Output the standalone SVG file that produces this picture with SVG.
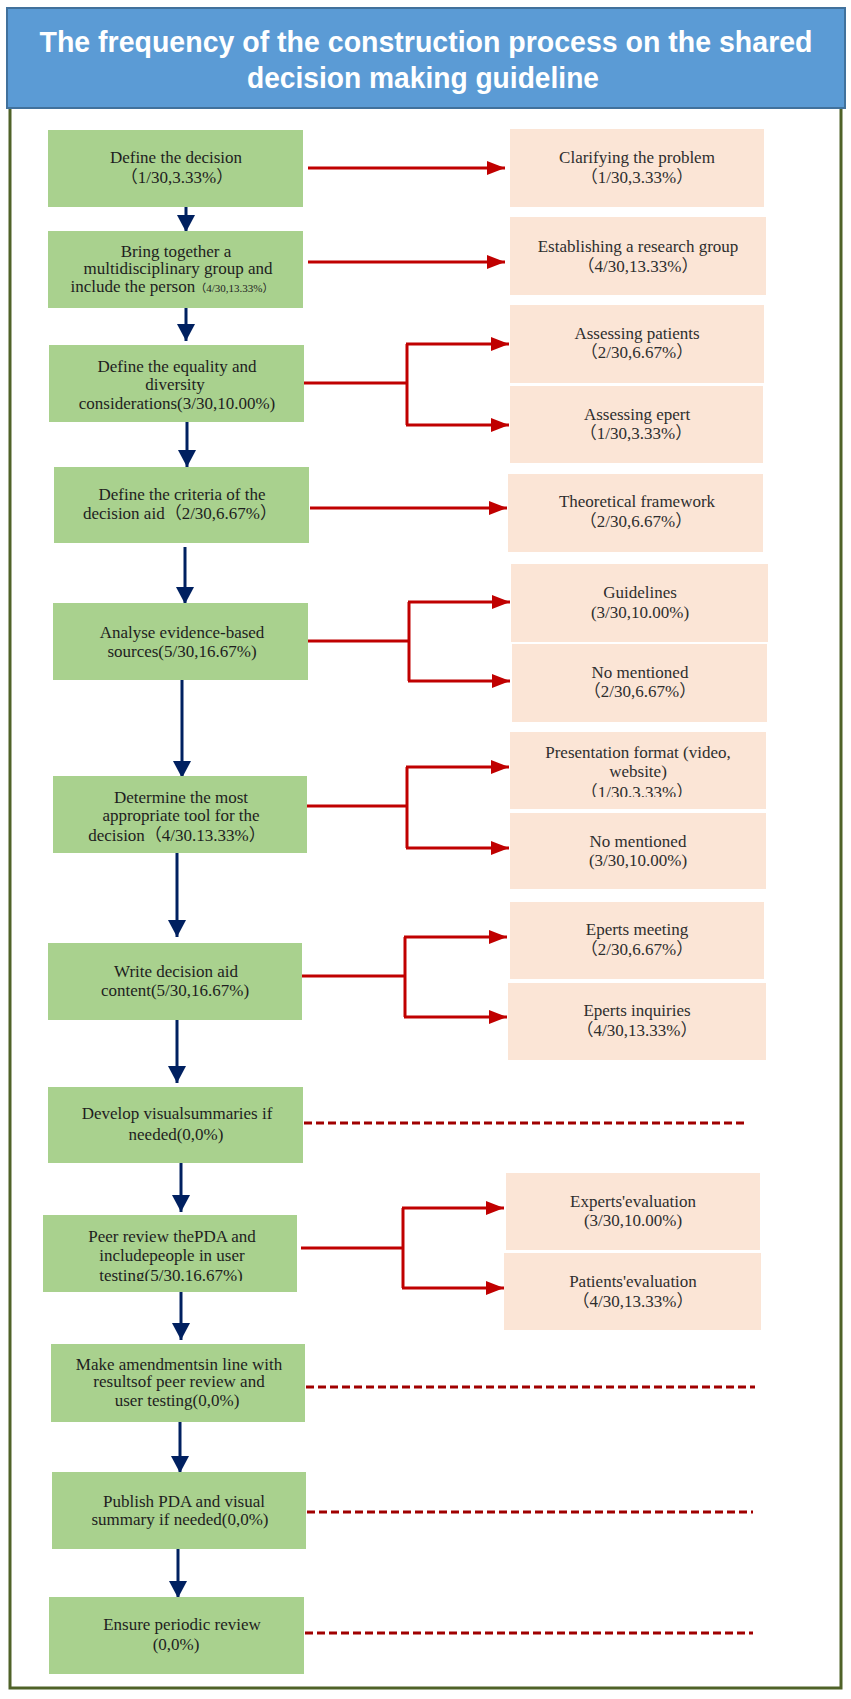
<svg xmlns="http://www.w3.org/2000/svg" width="851" height="1699" viewBox="0 0 851 1699">
<style>
.g{fill:#A9D18E}
.p{fill:#FBE5D6}
.t{font-family:"Liberation Serif","Times New Roman","Noto Sans CJK SC",serif;font-size:17px;fill:#1e1e1e;text-anchor:middle}
.tp{font-family:"Liberation Serif","Times New Roman","Noto Sans CJK SC",serif;font-size:17px;fill:#2e2e2e;text-anchor:middle}
.bl{stroke:#002060;stroke-width:3;fill:none}
.rd{stroke:#C00000;stroke-width:3;fill:none}
.ds{stroke:#A00000;stroke-width:3;fill:none;stroke-dasharray:8 4}
.title{font-family:"Liberation Sans","Open Sans",sans-serif;font-weight:bold;font-size:30px;fill:#fff;text-anchor:middle}
</style>
<defs>
<marker id="ab" markerUnits="userSpaceOnUse" markerWidth="17" markerHeight="18" viewBox="0 0 17 18" refX="17" refY="9" orient="auto"><path d="M0,0 L17,9 L0,18 z" fill="#002060"/></marker>
<marker id="ar" markerUnits="userSpaceOnUse" markerWidth="18" markerHeight="14" viewBox="0 0 18 14" refX="18" refY="7" orient="auto"><path d="M0,0 L18,7 L0,14 z" fill="#C00000"/></marker>
<clipPath id="c9"><rect x="43" y="1215" width="254" height="66"/></clipPath>
<clipPath id="c8p"><rect x="510" y="732" width="256" height="65"/></clipPath>
</defs>
<rect x="0" y="0" width="851" height="1699" fill="#fff"/>
<rect x="10" y="100" width="831" height="1588" fill="none" stroke="#4F6228" stroke-width="3"/>
<g id="title">
<rect x="7" y="8" width="838" height="100" fill="#5B9BD5" stroke="#41719C" stroke-width="2"/>
<text class="title" x="426" y="52" textLength="773" lengthAdjust="spacingAndGlyphs">The frequency of the construction process on the shared</text>
<text class="title" x="423" y="88" textLength="352" lengthAdjust="spacingAndGlyphs">decision making guideline</text>
</g>
<g id="connectors">
<line class="bl" x1="186" y1="207" x2="186" y2="232" marker-end="url(#ab)"/>
<line class="bl" x1="186" y1="308" x2="186" y2="341" marker-end="url(#ab)"/>
<line class="bl" x1="187" y1="422" x2="187" y2="467" marker-end="url(#ab)"/>
<line class="bl" x1="185" y1="547" x2="185" y2="604" marker-end="url(#ab)"/>
<line class="bl" x1="182" y1="680" x2="182" y2="778" marker-end="url(#ab)"/>
<line class="bl" x1="177" y1="853" x2="177" y2="937" marker-end="url(#ab)"/>
<line class="bl" x1="177" y1="1020" x2="177" y2="1083" marker-end="url(#ab)"/>
<line class="bl" x1="181" y1="1163" x2="181" y2="1212" marker-end="url(#ab)"/>
<line class="bl" x1="181" y1="1292" x2="181" y2="1340" marker-end="url(#ab)"/>
<line class="bl" x1="180" y1="1422" x2="180" y2="1473" marker-end="url(#ab)"/>
<line class="bl" x1="178" y1="1549" x2="178" y2="1598" marker-end="url(#ab)"/>
<line class="rd" x1="308" y1="168" x2="505" y2="168" marker-end="url(#ar)"/>
<line class="rd" x1="308" y1="262" x2="505" y2="262" marker-end="url(#ar)"/>
<line class="rd" x1="304" y1="383" x2="407" y2="383"/>
<line class="rd" x1="407" y1="344" x2="407" y2="425"/>
<line class="rd" x1="406" y1="344" x2="509" y2="344" marker-end="url(#ar)"/>
<line class="rd" x1="406" y1="425" x2="509" y2="425" marker-end="url(#ar)"/>
<line class="rd" x1="310" y1="508" x2="507" y2="508" marker-end="url(#ar)"/>
<line class="rd" x1="308" y1="641" x2="409" y2="641"/>
<line class="rd" x1="409" y1="602" x2="409" y2="681"/>
<line class="rd" x1="408" y1="602" x2="510" y2="602" marker-end="url(#ar)"/>
<line class="rd" x1="408" y1="681" x2="510" y2="681" marker-end="url(#ar)"/>
<line class="rd" x1="307" y1="806" x2="407" y2="806"/>
<line class="rd" x1="407" y1="767" x2="407" y2="848"/>
<line class="rd" x1="406" y1="767" x2="509" y2="767" marker-end="url(#ar)"/>
<line class="rd" x1="406" y1="848" x2="509" y2="848" marker-end="url(#ar)"/>
<line class="rd" x1="302" y1="976" x2="405" y2="976"/>
<line class="rd" x1="405" y1="937" x2="405" y2="1017"/>
<line class="rd" x1="404" y1="937" x2="507" y2="937" marker-end="url(#ar)"/>
<line class="rd" x1="404" y1="1017" x2="507" y2="1017" marker-end="url(#ar)"/>
<line class="rd" x1="301" y1="1248" x2="403" y2="1248"/>
<line class="rd" x1="403" y1="1208" x2="403" y2="1288"/>
<line class="rd" x1="402" y1="1208" x2="504" y2="1208" marker-end="url(#ar)"/>
<line class="rd" x1="402" y1="1288" x2="504" y2="1288" marker-end="url(#ar)"/>
<line class="ds" x1="304" y1="1123" x2="748" y2="1123"/>
<line class="ds" x1="306" y1="1387" x2="755" y2="1387"/>
<line class="ds" x1="307" y1="1512" x2="753" y2="1512"/>
<line class="ds" x1="305" y1="1633" x2="753" y2="1633"/>
</g>
<g id="g1"><rect class="g" x="48" y="130" width="255" height="77"/>
<text class="t" x="176" y="163">Define the decision</text><text class="t" x="177" y="183">（1/30,3.33%）</text></g>
<g id="g2"><rect class="g" x="48" y="231" width="255" height="77"/>
<text class="t" x="176" y="257" font-size="16">Bring together a</text>
<text class="t" x="178" y="274" font-size="16">multidisciplinary group and</text>
<text class="t" x="172" y="292" font-size="16">include the person<tspan font-size="11">（4/30,13.33%）</tspan></text></g>
<g id="g3"><rect class="g" x="49" y="345" width="255" height="77"/>
<text class="t" x="177" y="372">Define the equality and</text>
<text class="t" x="175" y="390">diversity</text>
<text class="t" x="177" y="409">considerations(3/30,10.00%)</text></g>
<g id="g4"><rect class="g" x="54" y="467" width="255" height="76"/>
<text class="t" x="182" y="500">Define the criteria of the</text>
<text class="t" x="180" y="519">decision aid（2/30,6.67%）</text></g>
<g id="g5"><rect class="g" x="53" y="603" width="255" height="77"/>
<text class="t" x="182" y="638">Analyse evidence-based</text>
<text class="t" x="182" y="657">sources(5/30,16.67%)</text></g>
<g id="g6"><rect class="g" x="53" y="776" width="254" height="77"/>
<text class="t" x="181" y="803">Determine the most</text>
<text class="t" x="181" y="821">appropriate tool for the</text>
<text class="t" x="177" y="841">decision（4/30.13.33%）</text></g>
<g id="g7"><rect class="g" x="48" y="943" width="254" height="77"/>
<text class="t" x="176" y="977">Write decision aid</text>
<text class="t" x="175" y="996">content(5/30,16.67%)</text></g>
<g id="g8"><rect class="g" x="48" y="1087" width="255" height="76"/>
<text class="t" x="177" y="1119">Develop visualsummaries if</text>
<text class="t" x="176" y="1140">needed(0,0%)</text></g>
<g id="g9"><rect class="g" x="43" y="1215" width="254" height="77"/>
<text class="t" x="172" y="1242">Peer review thePDA and</text>
<text class="t" x="172" y="1261">includepeople in user</text>
<text class="t" x="171" y="1281" clip-path="url(#c9)">testing(5/30,16.67%)</text></g>
<g id="g10"><rect class="g" x="51" y="1344" width="254" height="78"/>
<text class="t" x="179" y="1370" font-size="16">Make amendmentsin line with</text>
<text class="t" x="179" y="1387" font-size="16">resultsof peer review and</text>
<text class="t" x="177" y="1406" font-size="16">user testing(0,0%)</text></g>
<g id="g11"><rect class="g" x="52" y="1472" width="254" height="77"/>
<text class="t" x="184" y="1507">Publish PDA and visual</text>
<text class="t" x="180" y="1525">summary if needed(0,0%)</text></g>
<g id="g12"><rect class="g" x="49" y="1597" width="255" height="77"/>
<text class="t" x="182" y="1630">Ensure periodic review</text>
<text class="t" x="176" y="1650">(0,0%)</text></g>
<g id="p1"><rect class="p" x="510" y="129" width="254" height="78"/>
<text class="tp" x="637" y="163">Clarifying the problem</text><text class="tp" x="637" y="183">（1/30,3.33%）</text></g>
<g id="p2"><rect class="p" x="510" y="217" width="256" height="78"/>
<text class="tp" x="638" y="252">Establishing a research group</text><text class="tp" x="638" y="272">（4/30,13.33%）</text></g>
<g id="p3"><rect class="p" x="510" y="305" width="254" height="78"/>
<text class="tp" x="637" y="339">Assessing patients</text><text class="tp" x="637" y="358">（2/30,6.67%）</text></g>
<g id="p4"><rect class="p" x="510" y="386" width="253" height="77"/>
<text class="tp" x="637" y="420">Assessing epert</text><text class="tp" x="636" y="439">（1/30,3.33%）</text></g>
<g id="p5"><rect class="p" x="508" y="474" width="255" height="78"/>
<text class="tp" x="637" y="507">Theoretical framework</text><text class="tp" x="636" y="527">（2/30,6.67%）</text></g>
<g id="p6"><rect class="p" x="511" y="564" width="257" height="78"/>
<text class="tp" x="640" y="598">Guidelines</text><text class="tp" x="640" y="618">(3/30,10.00%)</text></g>
<g id="p7"><rect class="p" x="512" y="644" width="255" height="78"/>
<text class="tp" x="640" y="678">No mentioned</text><text class="tp" x="640" y="697">（2/30,6.67%）</text></g>
<g id="p8"><rect class="p" x="510" y="732" width="256" height="77"/>
<text class="tp" x="638" y="758">Presentation format (video,</text>
<text class="tp" x="638" y="777">website)</text>
<text class="tp" x="637" y="798" clip-path="url(#c8p)">（1/30.3.33%）</text></g>
<g id="p9"><rect class="p" x="510" y="813" width="256" height="76"/>
<text class="tp" x="638" y="847">No mentioned</text><text class="tp" x="638" y="866">(3/30,10.00%)</text></g>
<g id="p10"><rect class="p" x="510" y="902" width="254" height="77"/>
<text class="tp" x="637" y="935">Eperts meeting</text><text class="tp" x="637" y="955">（2/30,6.67%）</text></g>
<g id="p11"><rect class="p" x="508" y="983" width="258" height="77"/>
<text class="tp" x="637" y="1016">Eperts inquiries</text><text class="tp" x="637" y="1036">（4/30,13.33%）</text></g>
<g id="p12"><rect class="p" x="506" y="1173" width="254" height="77"/>
<text class="tp" x="633" y="1207">Experts'evaluation</text><text class="tp" x="633" y="1226">(3/30,10.00%)</text></g>
<g id="p13"><rect class="p" x="504" y="1253" width="257" height="77"/>
<text class="tp" x="633" y="1287">Patients'evaluation</text><text class="tp" x="633" y="1307">（4/30,13.33%）</text></g>
</svg>
